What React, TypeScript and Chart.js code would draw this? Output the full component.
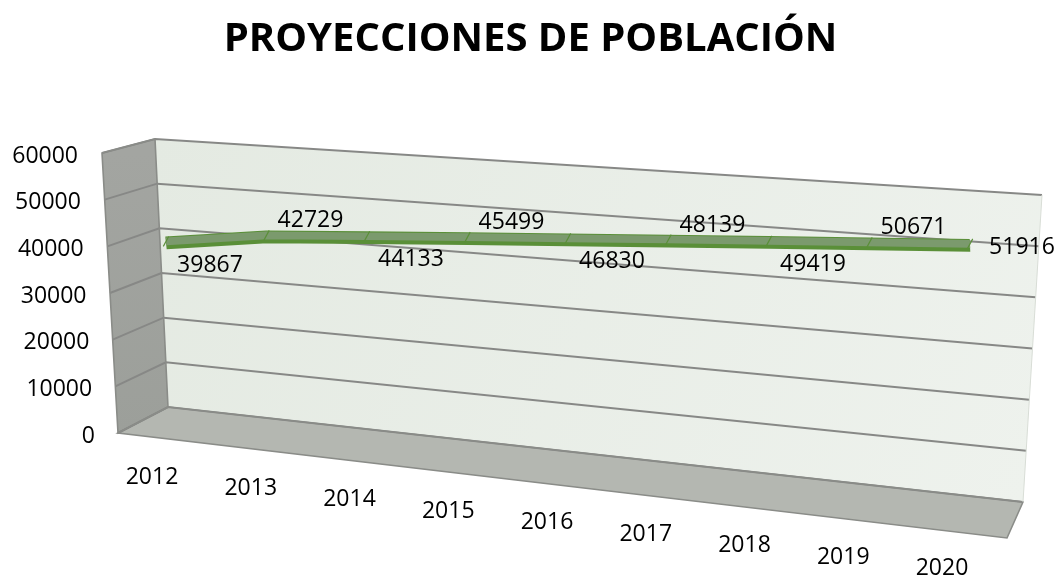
import React, { useEffect, useRef } from "react";
import { Chart, registerables } from "chart.js";

Chart.register(...registerables);

// ---- data ----
const YEARS = ["2012", "2013", "2014", "2015", "2016", "2017", "2018", "2019", "2020"];
const POPULATION = [39867, 42729, 44133, 45499, 46830, 48139, 49419, 50671, 51916];
const Y_TICKS = [0, 10000, 20000, 30000, 40000, 50000, 60000];
const TITLE = "PROYECCIONES DE POBLACIÓN";

// ---- styling / geometry of the pseudo-3D frame (screen px) ----
const FONT = "'Open Sans', 'DejaVu Sans', sans-serif";
const SIDE_FRONT = { bottom: [118, 433], top: [102, 153] };
const BACK_LEFT = { bottom: [168, 407], top: [155, 139] };
const BACK_RIGHT = { bottom: [1023, 502], top: [1042, 195] };
const FLOOR_FRONT_RIGHT = [1007, 538];
// plane in which the ribbon is drawn (affine approximation of the perspective)
const RIBBON = { x0: 166, x1: 970, yBase: 429, height: 280, slope: 0.073, topShift: -1.5 };
const XLAB = { x0: 152, x1: 942, y0: 477, slope: 0.116 };
const DLAB = { dx: 44, above: -16, below: 22, lastDx: 52, lastDy: 2 };

type P = number[];
const lerp = (p: P, q: P, t: number): P => [p[0] + (q[0] - p[0]) * t, p[1] + (q[1] - p[1]) * t];

function xform(chart: any) {
  const xs = chart.scales.x;
  const ys = chart.scales.y;
  const xa = xs.getPixelForValue(0);
  const xb = xs.getPixelForValue(chart.data.labels.length - 1);
  const ya = ys.getPixelForValue(ys.min);
  const yb = ys.getPixelForValue(ys.max);
  const ax = (RIBBON.x1 - RIBBON.x0) / (xb - xa);
  const ay = RIBBON.height / (ya - yb);
  return {
    a: ax,
    b: RIBBON.slope * ax,
    d: ay,
    e: RIBBON.x0 - ax * xa,
    f: RIBBON.yBase - ay * ya - RIBBON.slope * ax * xa,
  };
}

function poly(ctx: CanvasRenderingContext2D, pts: P[]) {
  ctx.beginPath();
  ctx.moveTo(pts[0][0], pts[0][1]);
  for (let i = 1; i < pts.length; i++) ctx.lineTo(pts[i][0], pts[i][1]);
  ctx.closePath();
}

const frame3d = {
  id: "frame3d",
  beforeDatasetsDraw(chart: any) {
    const ctx: CanvasRenderingContext2D = chart.ctx;
    const ys = chart.scales.y;
    const xs = chart.scales.x;
    const ticks = ys.ticks.map((t: any) => ({ v: t.value, f: (t.value - ys.min) / (ys.max - ys.min) }));
    ctx.save();

    // back wall
    poly(ctx, [BACK_LEFT.top, BACK_RIGHT.top, BACK_RIGHT.bottom, BACK_LEFT.bottom]);
    let g = ctx.createLinearGradient(BACK_LEFT.top[0], BACK_LEFT.top[1], BACK_RIGHT.bottom[0], BACK_RIGHT.bottom[1]);
    g.addColorStop(0, "#e4eae2");
    g.addColorStop(1, "#eef2ed");
    ctx.fillStyle = g;
    ctx.fill();

    // side wall
    poly(ctx, [SIDE_FRONT.top, BACK_LEFT.top, BACK_LEFT.bottom, SIDE_FRONT.bottom]);
    g = ctx.createLinearGradient(0, SIDE_FRONT.top[1], 0, SIDE_FRONT.bottom[1]);
    g.addColorStop(0, "#a3a5a1");
    g.addColorStop(1, "#9c9f9a");
    ctx.fillStyle = g;
    ctx.fill();

    // floor
    poly(ctx, [SIDE_FRONT.bottom, BACK_LEFT.bottom, BACK_RIGHT.bottom, FLOOR_FRONT_RIGHT]);
    ctx.fillStyle = "#b4b7b1";
    ctx.fill();

    // gridlines
    ctx.lineWidth = 2;
    ctx.strokeStyle = "#878886";
    for (const t of ticks) {
      const p0 = lerp(SIDE_FRONT.bottom, SIDE_FRONT.top, t.f);
      const p1 = lerp(BACK_LEFT.bottom, BACK_LEFT.top, t.f);
      const p2 = lerp(BACK_RIGHT.bottom, BACK_RIGHT.top, t.f);
      ctx.beginPath();
      ctx.moveTo(p0[0], p0[1]);
      ctx.lineTo(p1[0], p1[1]);
      ctx.lineTo(p2[0], p2[1]);
      ctx.stroke();
    }
    // outlines
    ctx.strokeStyle = "#8a8c88";
    ctx.lineWidth = 1.6;
    poly(ctx, [SIDE_FRONT.top, BACK_LEFT.top, BACK_LEFT.bottom, SIDE_FRONT.bottom]);
    ctx.stroke();
    poly(ctx, [SIDE_FRONT.bottom, BACK_LEFT.bottom, BACK_RIGHT.bottom, FLOOR_FRONT_RIGHT]);
    ctx.stroke();
    ctx.strokeStyle = "#d8ddd6";
    ctx.lineWidth = 1;
    ctx.beginPath();
    ctx.moveTo(BACK_RIGHT.top[0], BACK_RIGHT.top[1]);
    ctx.lineTo(BACK_RIGHT.bottom[0], BACK_RIGHT.bottom[1]);
    ctx.stroke();

    // y-axis labels along the front edge of the side wall
    ctx.fillStyle = "#000";
    ctx.font = `23px ${FONT}`;
    ctx.textAlign = "right";
    ctx.textBaseline = "middle";
    for (const t of ticks) {
      const p = lerp(SIDE_FRONT.bottom, SIDE_FRONT.top, t.f);
      const xr = 78 + 17 * (1 - t.f);
      ctx.fillText(String(t.v), xr, p[1] + 3);
    }

    // x-axis labels along the floor
    const m = xform(chart);
    ctx.textAlign = "center";
    chart.data.labels.forEach((lab: string, i: number) => {
      const px = xs.getPixelForValue(i);
      const sx = m.a * px + m.e;
      const lx = XLAB.x0 + ((sx - RIBBON.x0) * (XLAB.x1 - XLAB.x0)) / (RIBBON.x1 - RIBBON.x0);
      const ly = XLAB.y0 + (lx - XLAB.x0) * XLAB.slope;
      ctx.fillText(lab, lx, ly);
    });
    ctx.restore();
  },
  beforeDatasetDraw(chart: any, args: any) {
    const ctx: CanvasRenderingContext2D = chart.ctx;
    const m = xform(chart);
    ctx.save();
    ctx.transform(m.a, m.b, 0, m.d, m.e, m.f + (args.index === 0 ? RIBBON.topShift : 0));
  },
  afterDatasetDraw(chart: any) {
    chart.ctx.restore();
  },
  afterDatasetsDraw(chart: any) {
    const ctx: CanvasRenderingContext2D = chart.ctx;
    const m = xform(chart);
    const meta = chart.getDatasetMeta(1);
    const vals = chart.data.datasets[1].data;
    ctx.save();
    ctx.fillStyle = "#000";
    ctx.font = `23px ${FONT}`;
    ctx.textAlign = "center";
    ctx.textBaseline = "middle";
    const n = meta.data.length;
    meta.data.forEach((pt: any, i: number) => {
      const sx = m.a * pt.x + m.e;
      const sy = m.b * pt.x + m.d * pt.y + m.f;
      let lx: number, ly: number;
      if (i === n - 1) {
        lx = sx + DLAB.lastDx;
        ly = sy + DLAB.lastDy;
      } else {
        lx = sx + DLAB.dx;
        ly = sy + (i % 2 === 0 ? DLAB.below : DLAB.above);
      }
      ctx.fillText(String(vals[i]), lx, ly);
    });
    ctx.restore();
  },
};

export default function App() {
  const ref = useRef<HTMLCanvasElement>(null);
  useEffect(() => {
    document.body.style.margin = "0";
    const canvas = ref.current!;
    const chart = new Chart(canvas, {
      type: "line",
      data: {
        labels: YEARS,
        datasets: [
          {
            // top face of the ribbon (drawn last, on top)
            label: "Población (cara superior)",
            data: POPULATION,
            borderColor: "#7b9a6d",
            borderWidth: 9,
            pointStyle: "line",
            pointRotation: -60,
            pointRadius: 7,
            pointBorderColor: "#5a8f38",
            pointBorderWidth: 1.5,
            tension: 0,
            clip: false,
            borderJoinStyle: "miter",
          } as any,
          {
            // ribbon body / edges
            label: "Población",
            data: POPULATION,
            borderColor: "#5a8f38",
            borderWidth: 15,
            pointRadius: 0,
            tension: 0,
            clip: false,
            borderCapStyle: "butt",
            borderJoinStyle: "miter",
          } as any,
        ],
      },
      options: {
        responsive: false,
        animation: false,
        layout: { padding: { left: 0, right: 0, top: 0, bottom: 130 } },
        plugins: {
          legend: { display: false },
          tooltip: { enabled: false },
          title: {
            display: true,
            text: TITLE,
            color: "#000",
            font: { family: FONT, size: 40, weight: "bold" },
            padding: { top: 16, bottom: 58 },
          },
        },
        scales: {
          x: { display: false },
          y: {
            display: false,
            min: 0,
            max: 60000,
            afterBuildTicks: (axis: any) => {
              axis.ticks = Y_TICKS.map((v) => ({ value: v }));
            },
          },
        },
      },
      plugins: [frame3d as any],
    });
    return () => chart.destroy();
  }, []);
  return (
    <div style={{ width: 1061, height: 581 }}>
      <canvas ref={ref} width={1061} height={581} style={{ display: "block" }} />
    </div>
  );
}
